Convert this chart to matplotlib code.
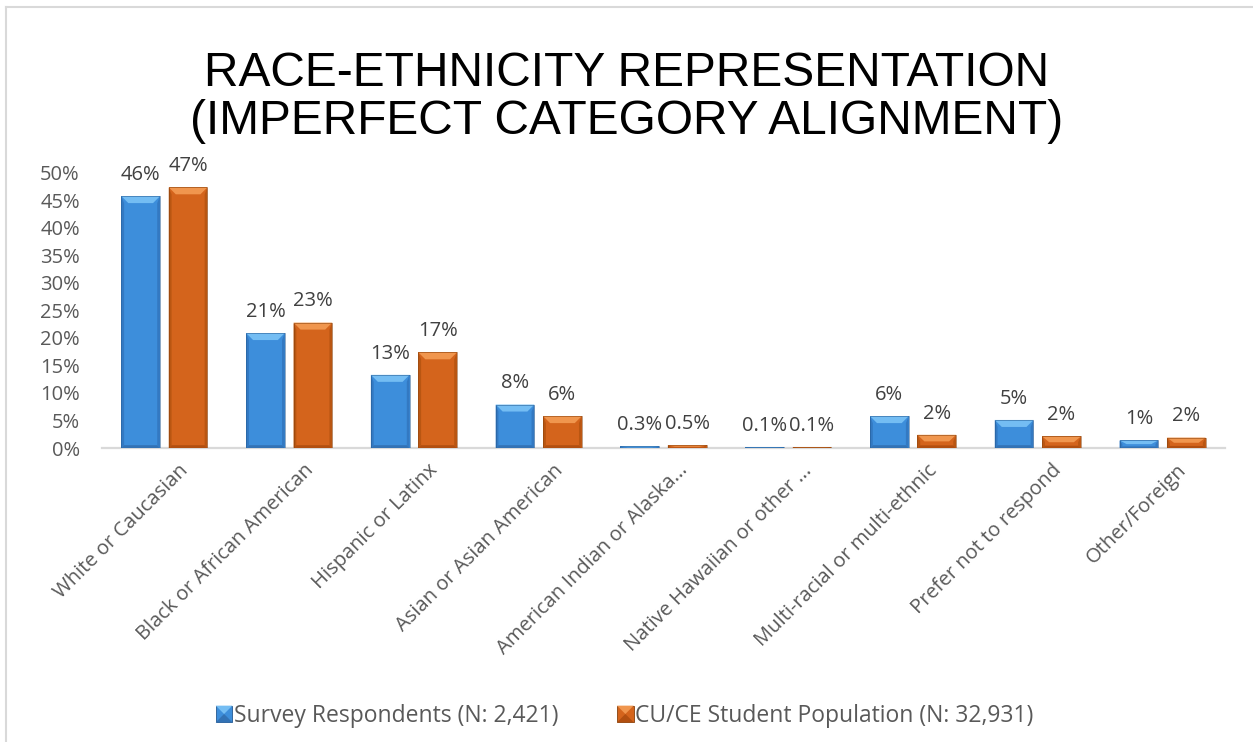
import matplotlib
matplotlib.use("Agg")
import matplotlib.pyplot as plt
import matplotlib.transforms as mtransforms
from matplotlib.patches import Polygon, Rectangle
from matplotlib.lines import Line2D
from matplotlib.legend_handler import HandlerBase

categories = [
    "White or Caucasian",
    "Black or African American",
    "Hispanic or Latinx",
    "Asian or Asian American",
    "American Indian or Alaska...",
    "Native Hawaiian or other ...",
    "Multi-racial or multi-ethnic",
    "Prefer not to respond",
    "Other/Foreign",
]
survey = [45.8, 20.9, 13.3, 7.9, 0.3, 0.1, 5.8, 5.1, 1.4]
population = [47.4, 22.8, 17.4, 5.8, 0.5, 0.1, 2.4, 2.1, 1.9]
series_names = ["Survey Respondents (N: 2,421)", "CU/CE Student Population (N: 32,931)"]
yticks = [0, 5, 10, 15, 20, 25, 30, 35, 40, 45, 50]

BLUE = dict(face="#3d8edb", top="#74bdf3", side="#3379c2", bottom="#3272b5", edge="#24588f")
ORANGE = dict(face="#d4641c", top="#f0964e", side="#b95612", bottom="#b24f10", edge="#84400c")

W, H, DPI = 1253, 742, 100
fig = plt.figure(figsize=(W / DPI, H / DPI), dpi=DPI)
fig.patch.set_facecolor("white")

# thin chart-area frame (top and left edges)
fig.add_artist(Line2D([6 / W, 6 / W], [0, 1 - 7 / H], transform=fig.transFigure,
                      color="#d9d9d9", lw=1.5))
fig.add_artist(Line2D([6 / W, 1], [1 - 7 / H, 1 - 7 / H], transform=fig.transFigure,
                      color="#d9d9d9", lw=1.5))

ax_left, ax_right = 102, 1225
ax_top, ax_bottom = 173, 448
ax = fig.add_axes([ax_left / W, 1 - ax_bottom / H, (ax_right - ax_left) / W,
                   (ax_bottom - ax_top) / H])
ax.set_xlim(-0.5, len(categories) - 0.5)
ax.set_ylim(0, 50)
for s in ax.spines.values():
    s.set_visible(False)
ax.axhline(0, color="#d9d9d9", lw=1.6, zorder=1, clip_on=False)

px_x = (len(categories)) / (ax_right - ax_left)   # data units per pixel, x
px_y = 50 / (ax_bottom - ax_top)                   # data units per pixel, y

bar_w = 0.31
offset = 0.19


def bevel_bar(x0, width, height, c):
    """Draw a bar with a bevelled look."""
    if height <= 0:
        return
    b = 7 * px_x
    bh = min(7 * px_y, height / 2)
    bw = min(b, width / 2)
    x1 = x0 + width
    ax.add_patch(Rectangle((x0, 0), width, height, facecolor=c["face"],
                           edgecolor="none", zorder=2))
    # sides
    ax.add_patch(Polygon([(x0, 0), (x0 + bw * 0.4, bh * 0.4), (x0 + bw * 0.4, height - bh),
                          (x0, height)], closed=True, facecolor=c["side"],
                         edgecolor="none", zorder=3))
    ax.add_patch(Polygon([(x1, 0), (x1 - bw * 0.4, bh * 0.4), (x1 - bw * 0.4, height - bh),
                          (x1, height)], closed=True, facecolor=c["side"],
                         edgecolor="none", zorder=3))
    # bottom
    ax.add_patch(Polygon([(x0, 0), (x1, 0), (x1 - bw * 0.4, bh * 0.4),
                          (x0 + bw * 0.4, bh * 0.4)], closed=True,
                         facecolor=c["bottom"], edgecolor="none", zorder=3))
    # top
    ax.add_patch(Polygon([(x0, height), (x1, height), (x1 - bw, height - bh),
                          (x0 + bw, height - bh)], closed=True, facecolor=c["top"],
                         edgecolor="none", zorder=4))
    ax.add_patch(Rectangle((x0, 0), width, height, facecolor="none",
                           edgecolor=c["edge"], lw=0.6, zorder=5, alpha=0.6))


def fmt(v):
    return f"{v:.1f}%" if v < 1 else f"{v:.0f}%"


FONT = "Open Sans"
label_font = dict(family=FONT, size=14.5, color="#404040")
for i, (s_val, p_val) in enumerate(zip(survey, population)):
    for val, sign, col in ((s_val, -1, BLUE), (p_val, 1, ORANGE)):
        cx = i + sign * offset
        bevel_bar(cx - bar_w / 2, bar_w, val, col)
        ax.annotate(fmt(val), (cx, val), xytext=(0, 8), textcoords="offset points",
                    ha="center", va="bottom", **label_font)

ax.set_yticks(yticks)
ax.set_yticklabels([f"{t}%" for t in yticks], family=FONT, size=14.5,
                   color="#595959")
ax.tick_params(axis="y", length=0, pad=16)
ax.set_xticks(range(len(categories)))
ax.set_xticklabels(categories, rotation=45, ha="right", va="top",
                   rotation_mode="anchor", family=FONT, size=14.5,
                   color="#595959")
ax.tick_params(axis="x", length=0, pad=9)
shift = mtransforms.ScaledTranslation(14 / DPI, 0, fig.dpi_scale_trans)
for lbl in ax.get_xticklabels():
    lbl.set_transform(lbl.get_transform() + shift)

fig.text(0.5, 1 - 73 / H, "RACE-ETHNICITY REPRESENTATION", ha="center", va="center",
         family="Liberation Sans", size=34.5, color="#000000")
fig.text(0.5, 1 - 121 / H, "(IMPERFECT CATEGORY ALIGNMENT)", ha="center", va="center",
         family="Liberation Sans", size=34.5, color="#000000")


class BevelSquare(HandlerBase):
    def __init__(self, c):
        super().__init__()
        self.c = c

    def create_artists(self, legend, orig_handle, xdescent, ydescent, width, height,
                       fontsize, trans):
        s = 12
        x0 = width - s
        y0 = (height - s) / 2
        c = self.c
        arts = [Rectangle((x0, y0), s, s, facecolor=c["face"], edgecolor=c["edge"],
                          lw=0.6, transform=trans),
                Polygon([(x0, y0 + s), (x0 + s, y0 + s), (x0 + s / 2, y0 + s / 2)],
                        closed=True, facecolor=c["top"], edgecolor="none",
                        transform=trans),
                Polygon([(x0, y0), (x0 + s, y0), (x0 + s / 2, y0 + s / 2)],
                        closed=True, facecolor=c["bottom"], edgecolor="none",
                        transform=trans)]
        return arts


h1 = Rectangle((0, 0), 1, 1)
h2 = Rectangle((0, 0), 1, 1)
fig.legend([h1, h2], series_names, loc="center", bbox_to_anchor=(0.5, 1 - 716 / H),
           ncol=2, frameon=False, handler_map={h1: BevelSquare(BLUE), h2: BevelSquare(ORANGE)},
           prop=dict(family=FONT, size=16.5), labelcolor="#595959",
           handlelength=0.55, handletextpad=0.05, columnspacing=2.75)

fig.savefig("out.png", dpi=DPI, facecolor="white")
